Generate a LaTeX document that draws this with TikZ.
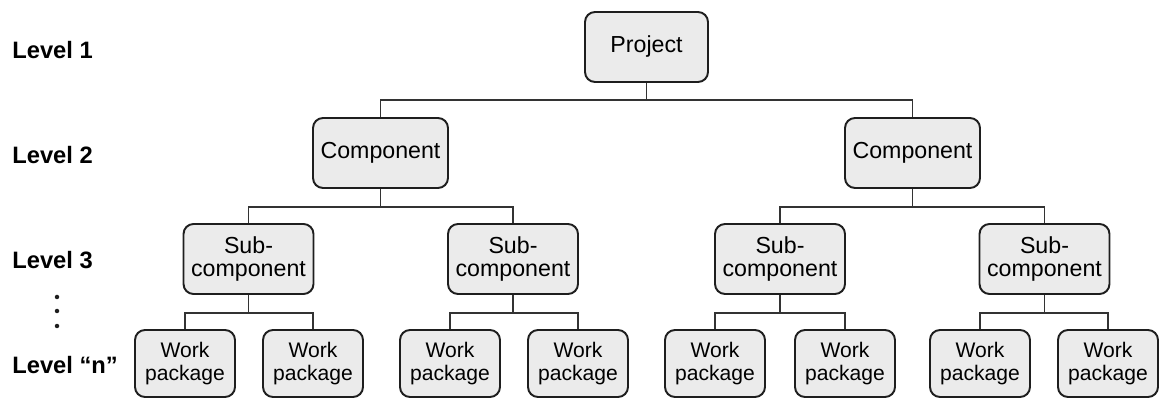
\documentclass[tikz,border=0pt]{standalone}
\usepackage{fontspec}
\setmainfont{Liberation Sans}
\usepackage{tikz}
\usepackage{xcolor}

\definecolor{boxfill}{HTML}{EBEBEB}
\definecolor{boxline}{HTML}{1E1E1E}
\definecolor{linkline}{HTML}{333333}

\begin{document}
\begin{tikzpicture}[x=0.02cm, y=-0.02cm,
    wbsbox/.style={draw=boxline, fill=boxfill, line width=1.1pt, rounded corners=0.2cm,
      align=center, inner sep=0pt, minimum height=1.4cm},
    topbox/.style={wbsbox, minimum width=2.46cm, font=\fontsize{13.2}{14}\selectfont},
    compbox/.style={wbsbox, minimum width=2.7cm, font=\fontsize{13.2}{14}\selectfont},
    subbox/.style={wbsbox, minimum width=2.6cm, font=\fontsize{13.2}{13.2}\selectfont},
    wpbox/.style={wbsbox, minimum width=2cm, minimum height=1.34cm, font=\fontsize{12}{13.6}\selectfont},
    levelname/.style={anchor=west, inner sep=0pt, font=\fontsize{13.5}{15}\selectfont\bfseries},
    link/.style={draw=linkline, line width=0.6pt}]
  \useasboundingbox (0,0) rectangle (1159,398);

  % Level labels on the left
  \node[levelname] (L1) at (12,50) {Level 1};
  \node[levelname] (L2) at (12,155) {Level 2};
  \node[levelname] (L3) at (12,260) {Level 3};
  \node[levelname] (Ln) at (12,365) {Level “n”};
  \foreach \y in {297,311,326}
    \fill[boxline] (57,\y) circle (0.045cm);

  % Define the project and the two components
  \node[topbox] (P) at (646.5,47) {Project};
  \node[compbox] (C1) at (380.5,153) {Component};
  \node[compbox] (C2) at (912.5,153) {Component};

  % Sub-components
  \node[subbox] (S1) at (248.5,259) {Sub-\\component};
  \node[subbox] (S2) at (513,259) {Sub-\\component};
  \node[subbox] (S3) at (780,259) {Sub-\\component};
  \node[subbox] (S4) at (1044.5,259) {Sub-\\component};

  % Work packages
  \node[wpbox] (W1) at (185,363.5) {Work\\package};
  \node[wpbox] (W2) at (313,363.5) {Work\\package};
  \node[wpbox] (W3) at (450,363.5) {Work\\package};
  \node[wpbox] (W4) at (578,363.5) {Work\\package};
  \node[wpbox] (W5) at (715,363.5) {Work\\package};
  \node[wpbox] (W6) at (845,363.5) {Work\\package};
  \node[wpbox] (W7) at (980,363.5) {Work\\package};
  \node[wpbox] (W8) at (1108,363.5) {Work\\package};

  % Bars joining each parent to its children
  \coordinate (bP) at (646.5,100);
  \coordinate (bC1) at (380.5,207);
  \coordinate (bC2) at (912.5,207);
  \coordinate (bS1) at (248.5,313);
  \coordinate (bS2) at (513,313);
  \coordinate (bS3) at (780,313);
  \coordinate (bS4) at (1044.5,313);

  % Draw the tree edges
  \draw[link] (P.south) -- (bP);
  \draw[link] (C1.north) |- (bP) -| (C2.north);
  \draw[link] (C1.south) -- (bC1);
  \draw[link] (S1.north) |- (bC1) -| (S2.north);
  \draw[link] (C2.south) -- (bC2);
  \draw[link] (S3.north) |- (bC2) -| (S4.north);
  \draw[link] (S1.south) -- (bS1);
  \draw[link] (W1.north) |- (bS1) -| (W2.north);
  \draw[link] (S2.south) -- (bS2);
  \draw[link] (W3.north) |- (bS2) -| (W4.north);
  \draw[link] (S3.south) -- (bS3);
  \draw[link] (W5.north) |- (bS3) -| (W6.north);
  \draw[link] (S4.south) -- (bS4);
  \draw[link] (W7.north) |- (bS4) -| (W8.north);
\end{tikzpicture}
\end{document}
